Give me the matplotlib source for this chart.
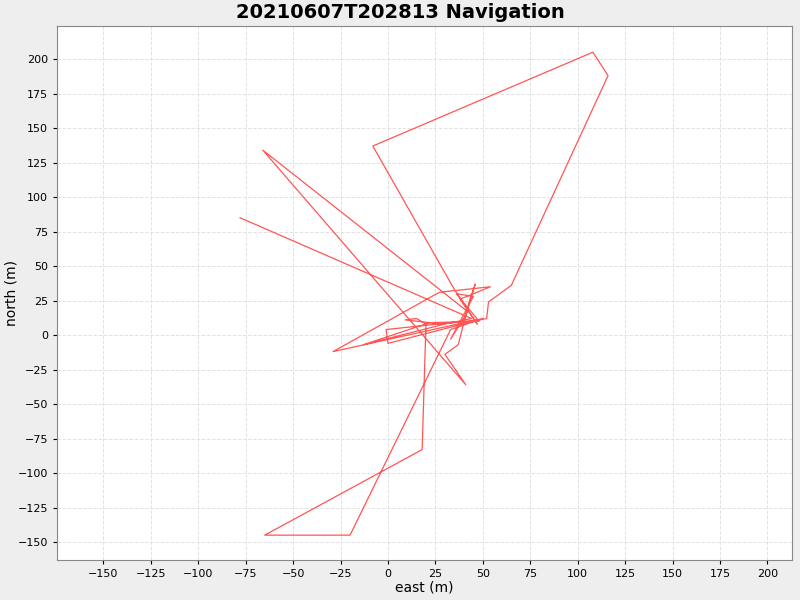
import numpy as np
import matplotlib
matplotlib.use('Agg')
import matplotlib.pyplot as plt

# track points (east, north) in metres
east = [-78, 44, 30, -13, 22, 48, 36, 45, 33, 42, -66, 41, 30, 37, 43, 46, 40, -1, 0, 48,
        28, 9, 15, 20, 18, -65, -20, 33, 50, -29, 27, 54, 38, 47, 35, -8, 108, 116, 65, 53, 52, 42]
north = [85, 12, 8, -7, 9, 10, 30, 28, -3, 17, 134, -36, -14, -7, 25, 37, 10, 4, -6, 11,
         8, 11, 12, 8, -83, -145, -145, 4, 12, -12, 31, 35, 26, 8, 33, 137, 205, 188, 36, 24, 12, 9]

fig = plt.figure(figsize=(8, 6), dpi=100, facecolor='#eeeeee')
ax = fig.add_axes([0.07125, 0.0667, 0.9188, 0.89])
ax.plot(east, north, color='#ff5555', linewidth=0.9)

ax.set_xlim(-174.5, 213)
ax.set_ylim(-163, 224)
ax.set_xticks(np.arange(-150, 201, 25))
ax.set_yticks(np.arange(-150, 201, 25))
ax.tick_params(labelsize=8, length=3)
ax.grid(True, color='#e2e2e2', linestyle='--', linewidth=0.7)
for s in ax.spines.values():
    s.set_color('#888888')
ax.set_xlabel('east (m)', fontsize=10, labelpad=1)
ax.set_ylabel('north (m)', fontsize=10, labelpad=2)
ax.yaxis.set_label_coords(-0.052, 0.5)
fig.suptitle('20210607T202813 Navigation', fontsize=14, fontweight='bold', y=0.995)

plt.savefig('out.png')
